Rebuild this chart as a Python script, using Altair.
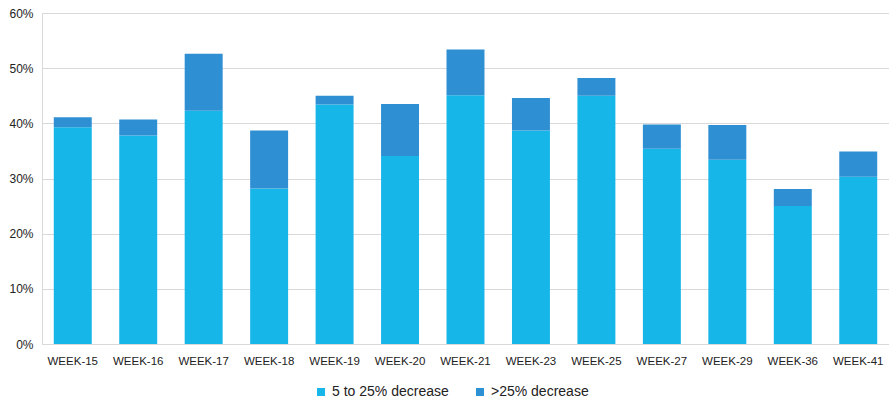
import altair as alt
import pandas as pd

weeks = ["WEEK-15", "WEEK-16", "WEEK-17", "WEEK-18", "WEEK-19", "WEEK-20", "WEEK-21",
         "WEEK-23", "WEEK-25", "WEEK-27", "WEEK-29", "WEEK-36", "WEEK-41"]
moderate = [39.3, 37.8, 42.3, 28.2, 43.4, 34.1, 45.1, 38.7, 45.0, 35.4, 33.4, 25.0, 30.3]
severe = [1.8, 2.9, 10.3, 10.5, 1.6, 9.4, 8.3, 5.9, 3.2, 4.4, 6.3, 3.1, 4.6]
series = ["5 to 25% decrease", ">25% decrease"]
colors = ["#17b6e8", "#2f8fd3"]

rows = []
for w, a, b in zip(weeks, moderate, severe):
    rows.append({"week": w, "series": series[0], "share": a / 100, "rank": 0})
    rows.append({"week": w, "series": series[1], "share": b / 100, "rank": 1})
df = pd.DataFrame(rows)

font = "Liberation Sans"

chart = alt.Chart(df).mark_bar().encode(
    x=alt.X("week:N", sort=weeks, title=None,
            scale=alt.Scale(paddingInner=0.42, paddingOuter=0.18),
            axis=alt.Axis(labelAngle=0, ticks=False, domain=False, labelPadding=11,
                          labelFont=font, labelFontSize=11.5, labelColor="#222222")),
    y=alt.Y("share:Q", stack="zero", title=None,
            scale=alt.Scale(domain=[0, 0.6], nice=False),
            axis=alt.Axis(format=".0%", values=[0, 0.1, 0.2, 0.3, 0.4, 0.5, 0.6],
                          ticks=False, domain=True, domainColor="#d9d9d9",
                          gridColor="#d9d9d9", labelPadding=9,
                          labelFont=font, labelFontSize=12, labelColor="#222222")),
    color=alt.Color("series:N", title=None,
                    scale=alt.Scale(domain=series, range=colors),
                    legend=alt.Legend(orient="none", direction="horizontal",
                                      legendX=272, legendY=372,
                                      symbolType="square", symbolSize=64,
                                      symbolStrokeWidth=0, columnPadding=24,
                                      labelFont=font, labelFontSize=14,
                                      labelColor="#222222", labelOffset=4)),
    order=alt.Order("rank:Q", sort="ascending"),
).properties(
    width=847, height=331,
    autosize=alt.AutoSizeParams(type="none"),
    padding={"left": 42, "top": 13, "right": 0, "bottom": 58},
).configure_view(stroke=None).configure(background="white")

chart.save("out.html", embed_options={"renderer": "svg", "actions": False})
